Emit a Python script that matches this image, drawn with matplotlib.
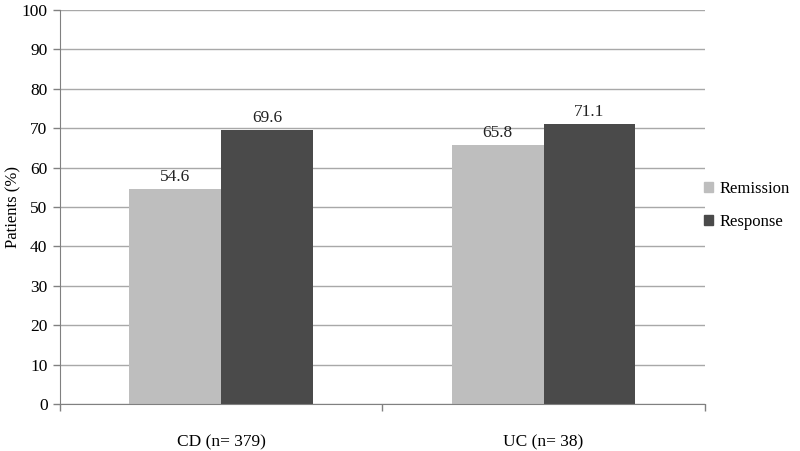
import numpy as np
import matplotlib.pyplot as plt
from matplotlib.patches import Patch

groups = ['CD (n= 379)', 'UC (n= 38)']
remission = [54.6, 65.8]
response = [69.6, 71.1]
yticks = list(range(0, 101, 10))

plt.rcParams['font.family'] = ['Liberation Serif', 'DejaVu Serif']

fig = plt.figure(figsize=(8, 4.51), dpi=100)
ax = fig.add_axes([0.075, 0.104, 0.806, 0.874])

x = np.arange(len(groups))
w = 0.285
light = '#bebebe'
dark = '#4a4a4a'
fs = 12.5

ax.set_axisbelow(True)
ax.yaxis.grid(True, color='#a8a8a8', linewidth=1)
b1 = ax.bar(x - w / 2, remission, w, color=light)
b2 = ax.bar(x + w / 2, response, w, color=dark)
for bars in (b1, b2):
    for r in bars:
        ax.text(r.get_x() + r.get_width() / 2, r.get_height() + 1.0,
                f'{r.get_height():.1f}', ha='center', va='bottom', fontsize=fs, color='#222222')

ax.set_xlim(-0.5, 1.5)
ax.set_ylim(0, 100)
ax.set_yticks(yticks)
ax.tick_params(axis='y', labelsize=fs, length=5, color='#808080', width=1, pad=4)
ax.set_ylabel('Patients (%)', fontsize=12)
ax.yaxis.set_label_coords(-0.06, 0.5)

ax.set_xticks([-0.5, 0.5, 1.5])
ax.set_xticklabels([])
ax.set_xticks(x, minor=True)
ax.set_xticklabels(groups, minor=True, fontsize=fs)
ax.tick_params(axis='x', which='major', length=5, color='#808080', width=1)
ax.tick_params(axis='x', which='minor', length=0, pad=22)

for s in ['top', 'right']:
    ax.spines[s].set_visible(False)
for s in ['left', 'bottom']:
    ax.spines[s].set_color('#808080')

handles = [Patch(color=light, label='Remission'), Patch(color=dark, label='Response')]
fig.legend(handles=handles, loc='center left', bbox_to_anchor=(0.872, 0.545),
           frameon=False, fontsize=12, handlelength=0.55, handleheight=0.55,
           handletextpad=0.35, labelspacing=1.0, borderaxespad=0.2, borderpad=0.2)

fig.savefig('out.png', dpi=100)
